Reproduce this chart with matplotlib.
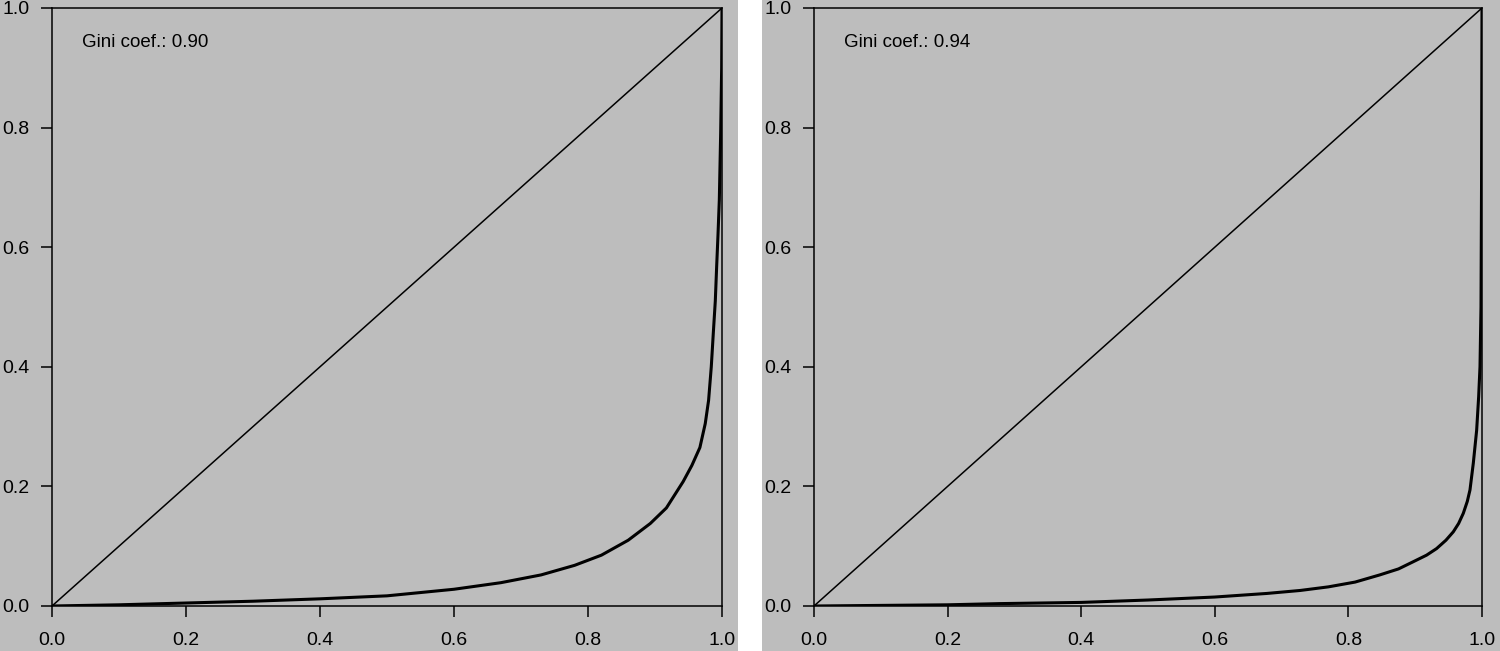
import matplotlib
matplotlib.use('Agg')
import matplotlib.pyplot as plt
from matplotlib.patches import Rectangle

# Lorenz curves (cumulative share of population vs. share of total)
left_x = [0.0, 0.1, 0.2, 0.3, 0.4, 0.5, 0.6, 0.67, 0.73, 0.78, 0.82, 0.86, 0.893, 0.917,
          0.942, 0.955, 0.967, 0.975, 0.980, 0.984, 0.987, 0.990, 0.992, 0.994, 0.996,
          0.998, 0.9995, 1.0]
left_y = [0.0, 0.002, 0.005, 0.008, 0.012, 0.017, 0.028, 0.039, 0.052, 0.068, 0.085, 0.110,
          0.138, 0.164, 0.208, 0.235, 0.265, 0.305, 0.344, 0.400, 0.456, 0.510, 0.567, 0.620,
          0.679, 0.790, 0.900, 1.0]
left_gini = 0.90

right_x = [0.0, 0.1, 0.2, 0.278, 0.4, 0.5, 0.6, 0.678, 0.728, 0.77, 0.81, 0.847, 0.875,
           0.897, 0.917, 0.932, 0.946, 0.957, 0.965, 0.972, 0.978, 0.982, 0.987, 0.992,
           0.995, 0.997, 0.9985, 0.9993, 1.0]
right_y = [0.0, 0.001, 0.002, 0.004, 0.006, 0.010, 0.015, 0.021, 0.026, 0.032, 0.040, 0.052,
           0.062, 0.074, 0.085, 0.096, 0.110, 0.124, 0.138, 0.155, 0.175, 0.194, 0.239, 0.294,
           0.350, 0.400, 0.500, 0.700, 1.0]
right_gini = 0.94

ticks = [0.0, 0.2, 0.4, 0.6, 0.8, 1.0]
tick_labels = ['0.0', '0.2', '0.4', '0.6', '0.8', '1.0']

bg = '#bdbdbd'
plt.rcParams['font.family'] = ['Liberation Sans', 'DejaVu Sans']

fig = plt.figure(figsize=(15, 6.51), dpi=100, facecolor=bg)
# white strip between the two panels
fig.patches.append(Rectangle((738 / 1500, 0), 24 / 1500, 1, transform=fig.transFigure,
                             facecolor='white', edgecolor='none', zorder=0))

ax1 = fig.add_axes([52 / 1500, 45 / 651, 670 / 1500, 598 / 651])
ax2 = fig.add_axes([814 / 1500, 45 / 651, 668 / 1500, 598 / 651])

for ax, xs, ys, g in [(ax1, left_x, left_y, left_gini), (ax2, right_x, right_y, right_gini)]:
    ax.set_facecolor(bg)
    ax.plot([0, 1], [0, 1], color='black', lw=1.1)
    ax.plot(xs, ys, color='black', lw=2.2, solid_joinstyle='round', solid_capstyle='round')
    ax.set_xlim(0, 1)
    ax.set_ylim(0, 1)
    ax.set_xticks(ticks)
    ax.set_xticklabels(tick_labels)
    ax.set_yticks(ticks)
    ax.set_yticklabels(tick_labels)
    ax.tick_params(direction='out', length=8, width=1.1, labelsize=14, colors='black')
    ax.tick_params(axis='x', pad=10.5)
    ax.tick_params(axis='y', pad=8)
    for s in ax.spines.values():
        s.set_linewidth(1.1)
    ax.text(0.045, 0.942, 'Gini coef.: %.2f' % g, transform=ax.transAxes,
            fontsize=13.5, ha='left', va='center')

fig.savefig('out.png', dpi=100, facecolor=bg)
